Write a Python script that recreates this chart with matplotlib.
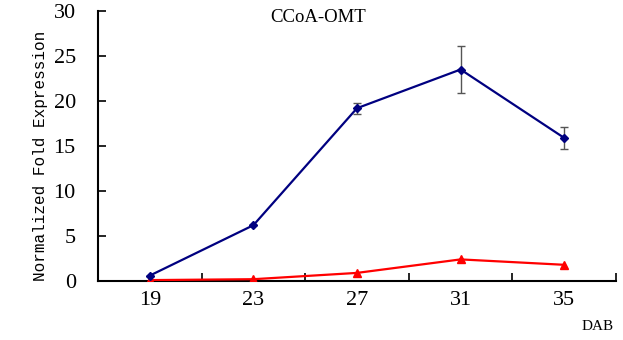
import matplotlib.pyplot as plt
from matplotlib.ticker import FixedLocator, NullFormatter

days = ["19", "23", "27", "31", "35"]
ccoa_high = [0.6, 6.2, 19.2, 23.5, 15.9]
ccoa_high_err = [0.0, 0.0, 0.6, 2.6, 1.2]
ccoa_low = [0.1, 0.2, 0.9, 2.4, 1.8]

plt.rcParams['font.family'] = ['Liberation Serif', 'DejaVu Serif']

fig = plt.figure(figsize=(6.23, 3.4), dpi=100)
ax = fig.add_axes([98 / 623, 1 - 281 / 340, 518 / 623, 270 / 340])

x = list(range(len(days)))
ax.errorbar(x, ccoa_high, yerr=ccoa_high_err, color="#000080", lw=1.6,
            marker="D", ms=4, ecolor="#555555", elinewidth=1, capsize=3,
            capthick=1, zorder=3)
ax.plot(x, ccoa_low, color="#ff0000", lw=1.6, marker="^", ms=6, zorder=3)

ax.set_xlim(-0.5, len(days) - 0.5)
ax.set_ylim(0, 30)
ax.set_yticks(range(0, 31, 5))

# category axis: labels centred, tick marks on the boundaries
ax.set_xticks(x)
ax.set_xticklabels(days)
ax.tick_params(axis="x", which="major", length=0, pad=7, labelsize=16)
ax.xaxis.set_minor_locator(FixedLocator([i + 0.5 for i in range(-1, len(days))]))
ax.xaxis.set_minor_formatter(NullFormatter())
ax.tick_params(axis="x", which="minor", direction="in", length=6, width=1.2)
ax.tick_params(axis="y", direction="in", length=6, width=1.2, labelsize=16, pad=16)

for side in ("top", "right"):
    ax.spines[side].set_visible(False)
for side in ("left", "bottom"):
    ax.spines[side].set_linewidth(1.5)

ax.set_ylabel("Normalized Fold Expression", fontsize=11.5,
              family=["Liberation Mono", "DejaVu Sans Mono"])
ax.yaxis.set_label_coords(-0.096, 0.465)
ax.text(0.425, 0.975, "CCoA-OMT", transform=ax.transAxes, ha="center",
        va="center", fontsize=13.5)
fig.text(598 / 623, 1 - 327 / 340, "DAB", ha="center", va="center", fontsize=11,
         family=["Liberation Sans Narrow", "Liberation Serif"])

fig.savefig("out.png", dpi=100)
